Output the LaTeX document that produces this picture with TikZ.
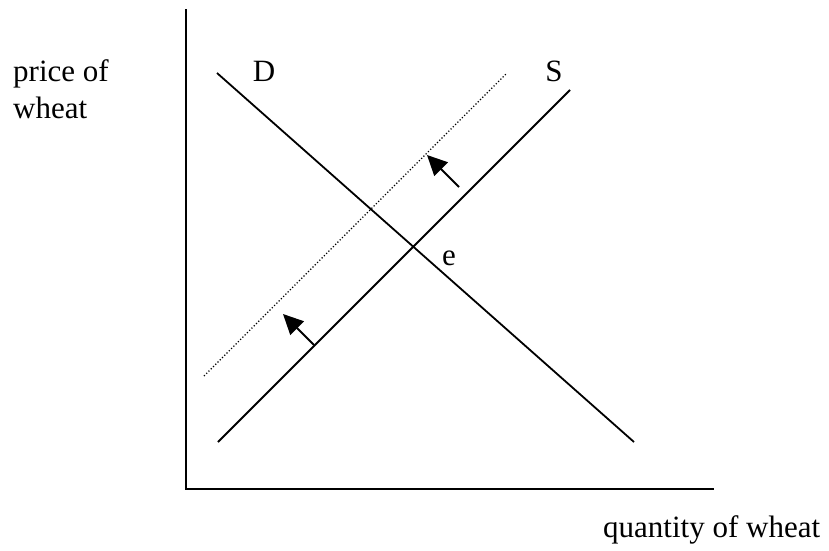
\documentclass[tikz,border=0pt]{standalone}
\usepackage{fontspec}
\setmainfont{Liberation Serif}
\usetikzlibrary{arrows.meta}
\begin{document}
\begin{tikzpicture}[x=1pt,y=-1pt,
  axis/.style={line width=2pt},
  curve/.style={line width=1.8pt},
  shifted/.style={line width=1.2pt, dotted},
  shiftarrow/.style={line width=1.8pt, -{Triangle[length=20pt,width=19pt]}},
  lbl/.style={inner sep=0pt, font=\fontsize{31}{38}\selectfont}]
\useasboundingbox (0,0) rectangle (829,550);
% axes
\coordinate (top) at (186,9);
\coordinate (origin) at (186,489);
\coordinate (right) at (714,489);
\draw[axis] (top) -- (origin) -- (right);
% demand
\coordinate (d1) at (217,73);
\coordinate (d2) at (634,442);
\draw[curve] (d1) -- (d2);
% supply
\coordinate (s1) at (218,442);
\coordinate (s2) at (570,90);
\draw[curve] (s1) -- (s2);
% shifted supply
\coordinate (n1) at (204,376);
\coordinate (n2) at (506,74);
\draw[shifted] (n1) -- (n2);
% arrows
\coordinate (a1) at (314,345);
\coordinate (b1) at (283,314);
\coordinate (a2) at (459,187);
\coordinate (b2) at (427,155);
\draw[shiftarrow] (a1) -- (b1);
\draw[shiftarrow] (a2) -- (b2);
% labels
\node[lbl, anchor=base west] (p1) at (13,81) {price of};
\node[lbl, anchor=base west] (p2) at (13,118) {wheat};
\node[lbl, anchor=base west] (q) at (603,537) {quantity of wheat};
\node[lbl, anchor=base] (D) at (264,81) {D};
\node[lbl, anchor=base] (S) at (554,81) {S};
\node[lbl, anchor=base] (e) at (449,265) {e};
\end{tikzpicture}
\end{document}
